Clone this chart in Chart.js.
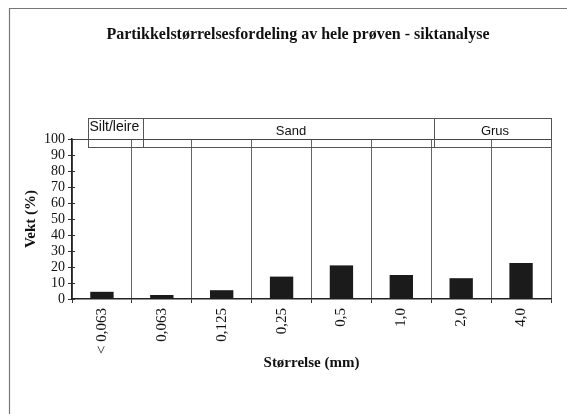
<!DOCTYPE html>
<html><head><meta charset="utf-8">
<script src="https://cdn.jsdelivr.net/npm/chart.js@4"></script>
<style>html,body{margin:0;padding:0;background:#fff}#wrap{position:relative;width:567px;height:414px}</style>
</head><body><div id="wrap"><canvas id="c" width="567" height="414"></canvas></div>
<script>
const chartTitle = 'Partikkelstørrelsesfordeling av hele prøven - siktanalyse';
const xAxisTitle = 'Størrelse (mm)';
const yAxisTitle = 'Vekt (%)';
const sizeLabels = ['< 0,063', '0,063', '0,125', '0,25', '0,5', '1,0', '2,0', '4,0'];
const weightPct = [4.5, 2.5, 5.5, 14, 21, 15, 13, 22.5];
const yMin = 0, yMax = 100, yStep = 10;
const bandNames = ['Silt/leire', 'Sand', 'Grus'];
const bandEdges = [-0.23, 0.68, 5.55, 7.5];

const serif = '"Liberation Serif", "Times New Roman", serif';
const sans = '"Liberation Sans", Arial, sans-serif';

const deco = {
  id: 'deco',
  beforeDraw(chart) {
    const ctx = chart.ctx;
    ctx.save();
    ctx.fillStyle = '#fff';
    ctx.fillRect(0, 0, chart.width, chart.height);
    ctx.strokeStyle = '#777';
    ctx.lineWidth = 1.2;
    ctx.beginPath();
    ctx.moveTo(9.5, chart.height);
    ctx.lineTo(9.5, 8.5);
    ctx.lineTo(chart.width, 8.5);
    ctx.stroke();
    ctx.fillStyle = '#111';
    ctx.font = 'bold 16px ' + serif;
    ctx.textAlign = 'center';
    ctx.textBaseline = 'middle';
    ctx.fillText(chartTitle, 298, 35);
    ctx.restore();
  },
  afterDraw(chart) {
    const ctx = chart.ctx;
    const xs = chart.scales.x, ys = chart.scales.y;
    const ca = chart.chartArea;
    ctx.save();
    // inner tick marks on y axis
    ctx.strokeStyle = '#333';
    ctx.lineWidth = 1;
    ys.ticks.forEach(t => {
      const py = Math.round(ys.getPixelForValue(t.value)) + 0.5;
      ctx.beginPath(); ctx.moveTo(ca.left, py); ctx.lineTo(ca.left + 3, py); ctx.stroke();
    });
    // band box
    const top = ca.top - 20.5, bot = ca.top + 8.5;
    const px = bandEdges.map(e => Math.round(xs.getPixelForValue(e)) + 0.5);
    ctx.strokeStyle = '#555';
    ctx.lineWidth = 1;
    ctx.strokeRect(px[0], top, px[px.length - 1] - px[0], bot - top);
    for (let i = 1; i < px.length - 1; i++) {
      ctx.beginPath(); ctx.moveTo(px[i], top); ctx.lineTo(px[i], bot); ctx.stroke();
    }
    ctx.fillStyle = '#111';
    ctx.textBaseline = 'middle';
    ctx.textAlign = 'left';
    ctx.font = '14px ' + sans;
    ctx.fillText(bandNames[0], px[0] + 1, top + 9);
    ctx.font = '13px ' + sans;
    ctx.textAlign = 'center';
    for (let i = 1; i < bandNames.length; i++) {
      ctx.fillText(bandNames[i], (px[i] + px[i + 1]) / 2 + 2, top + 13);
    }
    ctx.restore();
  }
};

new Chart(document.getElementById('c'), {
  type: 'bar',
  data: {
    labels: sizeLabels,
    datasets: [{
      data: weightPct,
      backgroundColor: '#1b1b1b',
      borderWidth: 0,
      categoryPercentage: 1,
      barPercentage: 0.39
    }]
  },
  options: {
    responsive: false,
    animation: false,
    layout: { padding: { left: 10, right: 16, top: 139, bottom: 0 } },
    plugins: { legend: { display: false }, tooltip: { enabled: false }, title: { display: false } },
    scales: {
      x: {
        grid: { offset: true, color: '#666', lineWidth: 1, tickLength: 4, tickColor: '#333' },
        border: { color: '#222', width: 1.5 },
        ticks: { autoSkip: false, maxRotation: 90, minRotation: 90, padding: 5, color: '#111', font: { family: serif, size: 15 } },
        title: { display: true, text: xAxisTitle, color: '#111', font: { family: serif, size: 15, weight: 'bold' }, padding: { top: 0, bottom: 42 } },
        afterFit(s) { s.height = 115; }
      },
      y: {
        min: yMin, max: yMax,
        ticks: { stepSize: yStep, autoSkip: false, padding: 3, color: '#111', font: { family: serif, size: 14 } },
        grid: { drawOnChartArea: true, color: c => (c.tick && c.tick.value === yMax) ? '#444' : 'rgba(0,0,0,0)', tickLength: 4, tickColor: '#333' },
        border: { color: '#222', width: 1.5 },
        title: { display: true, text: yAxisTitle, color: '#111', font: { family: serif, size: 15, weight: 'bold' }, padding: { top: 12, bottom: 0 } },
        afterFit(s) { s.width = 62; }
      }
    }
  },
  plugins: [deco]
});
</script>
</body></html>
